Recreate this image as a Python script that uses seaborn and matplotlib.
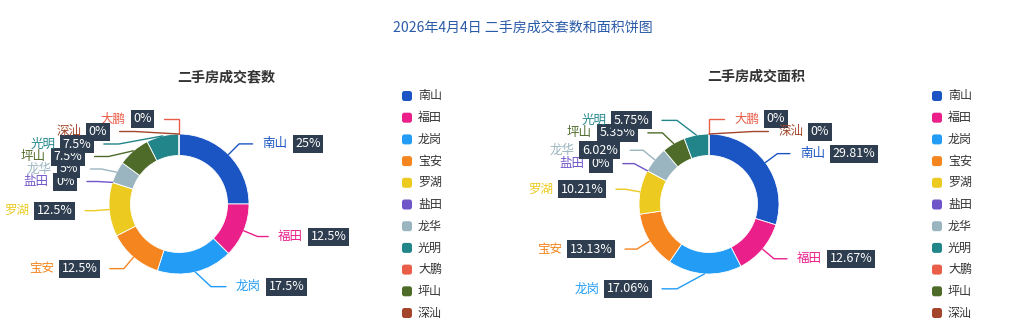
import math
import matplotlib
matplotlib.use("Agg")
import matplotlib.pyplot as plt
from matplotlib.patches import FancyBboxPatch
import seaborn as sns

sns.set_theme(style="white")
plt.rcParams["font.family"] = ["Noto Sans CJK SC", "DejaVu Sans"]

# ---------------- data ----------------
title_text = "2026年4月4日 二手房成交套数和面积饼图"
subtitle_count = "二手房成交套数"
subtitle_area = "二手房成交面积"

districts = ["南山", "福田", "龙岗", "宝安", "罗湖", "盐田", "龙华", "坪山", "光明", "大鹏", "深汕"]
count_pct = [25, 12.5, 17.5, 12.5, 12.5, 0, 5, 7.5, 7.5, 0, 0]
area_pct = [29.81, 12.67, 17.06, 13.13, 10.21, 0, 6.02, 5.35, 5.75, 0, 0]
count_labels = ["25%", "12.5%", "17.5%", "12.5%", "12.5%", "0%", "5%", "7.5%", "7.5%", "0%", "0%"]
area_labels = ["29.81%", "12.67%", "17.06%", "13.13%", "10.21%", "0%", "6.02%", "5.35%", "5.75%", "0%", "0%"]

legend_order = ["南山", "福田", "龙岗", "宝安", "罗湖", "盐田", "龙华", "光明", "大鹏", "坪山", "深汕"]
district_colors = {
    "南山": "#1b55c3", "福田": "#ea1f8a", "龙岗": "#239cf5", "宝安": "#f5851f",
    "罗湖": "#ecca1f", "盐田": "#6f55c8", "龙华": "#9ab5c0", "光明": "#22858a",
    "大鹏": "#ea5d48", "坪山": "#4e6b2a", "深汕": "#a3462b",
}

# ---------------- layout (pixels) ----------------
W, H = 1036, 333
PX = 0.72  # px -> pt at dpi 100
R_OUT, RING = 70, 21.5
LEN, LEN2 = 15, 15
LABEL_H = 12.5
LABEL_GAP = 10
MIN_DX = 32
NAME_GAP = 5
BOX_COLOR = "#2e3d4f"
LABEL_FS = 12.5 * PX
BOX_PAD = 0.2
PAD_PX = BOX_PAD * LABEL_FS / 0.72

fig = plt.figure(figsize=(W / 100, H / 100), dpi=100)
ax = fig.add_axes([0, 0, 1, 1])
renderer = fig.canvas.get_renderer()


def draw_donut(values, texts, cx, cy, zero_dir):
    cols = [district_colors[d] for d in districts]
    ax.pie(values, colors=cols, radius=R_OUT, center=(cx, cy), startangle=-90,
           counterclock=True,
           wedgeprops=dict(width=RING, edgecolor="white", linewidth=0.6))
    total = float(sum(values))
    items = []
    acc = 0.0
    for i, v in enumerate(values):
        mid = (acc + v / 2.0) / total * 2 * math.pi
        acc += v
        s, c = math.sin(mid), math.cos(mid)
        d = zero_dir if abs(s) < 1e-9 else (1 if s > 0 else -1)
        items.append(dict(i=i, d=d, s=abs(s),
                          x0=cx + R_OUT * s, y0=cy - R_OUT * c,
                          x1=cx + (R_OUT + LEN) * s, y1=cy - (R_OUT + LEN) * c))
    rA = R_OUT + LEN
    for side in (-1, 1):
        lst = sorted([it for it in items if it["d"] == side], key=lambda t: t["y1"])
        prev = -1e9
        for it in lst:
            it["y"] = max(it["y1"], prev + LABEL_H)
            prev = it["y"]
        for it in lst:
            it["x"] = it["x1"]
        for semi in ([t for t in lst if t["y"] < cy], [t for t in lst if t["y"] >= cy]):
            if not semi:
                continue
            maxdy, rB = -1, rA
            for it in semi:
                dy = abs(it["y"] - cy)
                if dy >= maxdy:
                    dx = it["x1"] - cx
                    rB = math.sqrt(dy * dy / (1 - dx * dx / (rA * rA))) if abs(dx) < rA else rA
                    maxdy = dy
            for it in semi:
                dy = abs(it["y"] - cy)
                val = 1 - dy * dy / (rB * rB) if rB > 0 else 0
                it["x"] = cx + math.sqrt(max(val, 0)) * rA * side
        for it in lst:
            if it["s"] > 1e-6 and abs(it["x"] - cx) < MIN_DX:
                it["x"] = cx + MIN_DX * side
    for it in items:
        i, d, y = it["i"], it["d"], it["y"]
        col = district_colors[districts[i]]
        len2 = LEN2 - 6 * it["s"] ** 4
        x2 = it["x"] + d * len2
        ax.plot([it["x0"], it["x"], x2], [it["y0"], y, y], color=col, lw=1,
                solid_joinstyle="miter", zorder=3)
        bbox = dict(boxstyle=f"square,pad={BOX_PAD}", fc=BOX_COLOR, ec="none")
        if d > 0:
            tn = ax.text(x2 + LABEL_GAP, y, districts[i], color=col, fontsize=LABEL_FS,
                         ha="left", va="center", zorder=4)
            wn = tn.get_window_extent(renderer=renderer).width
            ax.text(x2 + LABEL_GAP + wn + NAME_GAP + PAD_PX, y, texts[i], color="white",
                    fontsize=LABEL_FS, ha="left", va="center", bbox=bbox, zorder=4)
        else:
            xr = x2 - LABEL_GAP - PAD_PX
            tb = ax.text(xr, y, texts[i], color="white", fontsize=LABEL_FS,
                         ha="right", va="center", bbox=bbox, zorder=4)
            wb = tb.get_window_extent(renderer=renderer).width
            ax.text(xr - wb - PAD_PX - NAME_GAP, y, districts[i], color=col,
                    fontsize=LABEL_FS, ha="right", va="center", zorder=4)


def draw_legend(x_marker, y0, step):
    for k, name in enumerate(legend_order):
        y = y0 + k * step
        ax.add_patch(FancyBboxPatch((x_marker, y - 5), 10, 10,
                                    boxstyle="round,pad=0,rounding_size=2.5",
                                    fc=district_colors[name], ec="none"))
        ax.text(x_marker + 16, y, name, fontsize=12 * PX, color="#333333",
                ha="left", va="center")


draw_donut(count_pct, count_labels, 179, 204, -1)
draw_donut(area_pct, area_labels, 709, 204, 1)
draw_legend(402, 96, 21.7)
draw_legend(932, 96, 21.7)

ax.text(523, 28, title_text, fontsize=14 * PX, color="#2a5ba8", ha="center", va="center")
ax.text(226, 77, subtitle_count, fontsize=14 * PX, color="#333333", ha="center",
        va="center", fontweight="bold")
ax.text(756, 77, subtitle_area, fontsize=14 * PX, color="#333333", ha="center",
        va="center", fontweight="bold")

ax.set_xlim(0, W)
ax.set_ylim(H, 0)
ax.set_aspect("auto")
ax.axis("off")
fig.savefig("out.png", dpi=100, facecolor="white")
